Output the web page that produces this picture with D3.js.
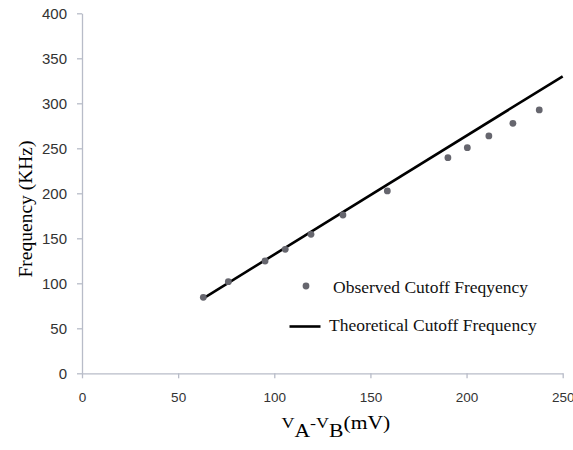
<!DOCTYPE html>
<html><head><meta charset="utf-8">
<script src="https://cdn.jsdelivr.net/npm/d3@7"></script>
<style>
body{margin:0;background:#fff;}
svg{display:block;}
</style></head>
<body>
<svg id="chart" width="573" height="450"></svg>
<script>
// Data
const observedV = [63.1, 76.1, 95.2, 105.7, 119.1, 135.7, 158.8, 190.3, 200.4, 211.6, 224.1, 237.8];
const observedF = [84.4, 101.8, 124.8, 137.8, 154.4, 175.9, 202.6, 239.6, 250.7, 263.7, 277.8, 292.6];
const theoreticalV = [62.5, 250];
const theoreticalF = [82.5, 330];
const xTicks = [0, 50, 100, 150, 200, 250];
const yTicks = [0, 50, 100, 150, 200, 250, 300, 350, 400];
const legendLabels = ["Observed Cutoff Freqyency", "Theoretical Cutoff Frequency"];

const svg = d3.select("#chart");
const x = d3.scaleLinear().domain([0, 250]).range([82, 562.7]);
const y = d3.scaleLinear().domain([0, 400]).range([373.3, 13.3]);
const axisColor = "#b8bcc8";
const textColor = "#333";

const gx = svg.append("g").attr("transform", `translate(0,${y(0)})`)
  .call(d3.axisBottom(x).tickValues(xTicks).tickSize(5).tickPadding(14).tickSizeOuter(0));
const gy = svg.append("g").attr("transform", `translate(${x(0)},0)`)
  .call(d3.axisLeft(y).tickValues(yTicks).tickSize(5).tickPadding(10).tickSizeOuter(0));
[gx, gy].forEach(g => {
  g.select(".domain").attr("stroke", axisColor).attr("stroke-width", 1.3);
  g.selectAll(".tick line").attr("stroke", axisColor).attr("stroke-width", 1.3);
  g.selectAll(".tick text").attr("fill", textColor)
    .style("font-family", "'Liberation Sans', Arial, sans-serif").style("font-size", "15px");
});
gx.selectAll(".tick text").style("font-size", "13.5px");

// Theoretical line
const line = d3.line().x(d => x(d[0])).y(d => y(d[1]));
svg.append("path")
  .datum(theoreticalV.map((v, i) => [v, theoreticalF[i]]))
  .attr("d", line).attr("fill", "none").attr("stroke", "#000").attr("stroke-width", 2.6);

// Observed points
svg.append("g").selectAll("circle")
  .data(observedV.map((v, i) => [v, observedF[i]]))
  .join("circle")
  .attr("cx", d => x(d[0])).attr("cy", d => y(d[1])).attr("r", 3.4).attr("fill", "#66666e");

// Legend
const serif = "'Liberation Serif', 'Times New Roman', serif";
svg.append("circle").attr("cx", 306).attr("cy", 286).attr("r", 3.4).attr("fill", "#66666e");
svg.append("text").attr("x", 333).attr("y", 292.5).text(legendLabels[0])
  .style("font-family", serif).style("font-size", "17.5px").attr("fill", "#111");
svg.append("line").attr("x1", 289.5).attr("x2", 320.5).attr("y1", 326.5).attr("y2", 326.5)
  .attr("stroke", "#000").attr("stroke-width", 2.6);
svg.append("text").attr("x", 329).attr("y", 330.5).text(legendLabels[1])
  .style("font-family", serif).style("font-size", "17.5px").attr("fill", "#111");

// Y axis title
svg.append("text").attr("transform", "translate(32,209) rotate(-90)")
  .attr("text-anchor", "middle").text("Frequency (KHz)")
  .style("font-family", serif).style("font-size", "19.5px").attr("fill", "#000");

// X axis title
const xt = svg.append("text").attr("transform", "translate(281.5,428) scale(1.2,1)")
  .style("font-family", serif).attr("fill", "#000");
xt.append("tspan").text("V").style("font-size", "15px");
xt.append("tspan").text("A").style("font-size", "18px").attr("dy", 9);
xt.append("tspan").text("-V").style("font-size", "15px").attr("dy", -9);
xt.append("tspan").text("B").style("font-size", "18px").attr("dy", 9);
xt.append("tspan").text("(mV)").style("font-size", "18px").attr("dy", -8);
</script>
</body></html>
